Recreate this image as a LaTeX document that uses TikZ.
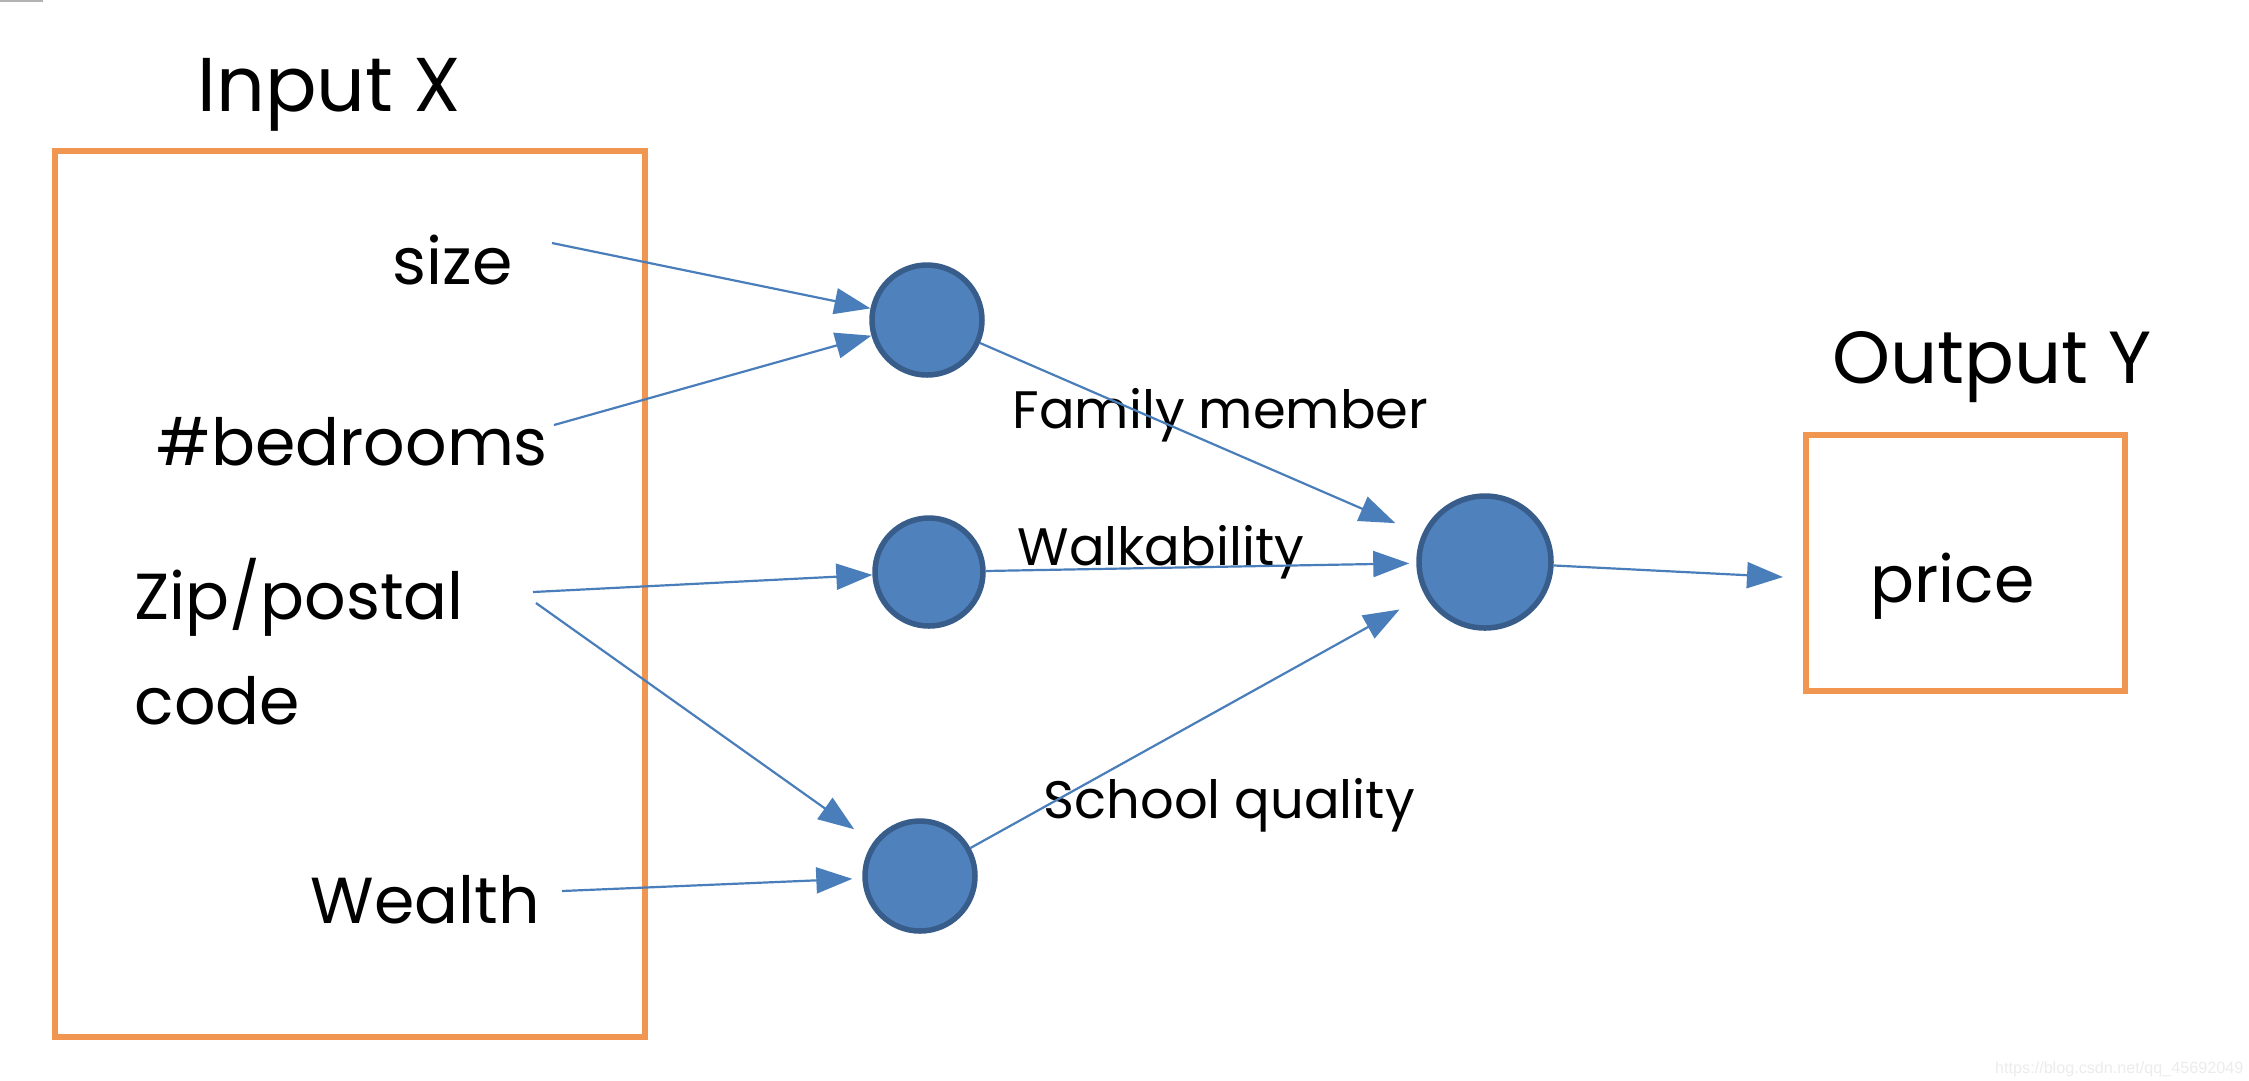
\documentclass[tikz,border=0pt]{standalone}
\usepackage{fontspec}
\setmainfont{Poppins}
\newfontfamily\wmfont{Liberation Sans}
\usetikzlibrary{arrows.meta}
\definecolor{boxorange}{RGB}{240,150,80}
\definecolor{nodefill}{RGB}{79,129,189}
\definecolor{nodeedge}{RGB}{56,93,138}
\definecolor{linkblue}{RGB}{74,126,187}
\begin{document}
\begin{tikzpicture}[x=0.1mm,y=-0.1mm,
  neuron/.style={circle,fill=nodefill,draw=nodeedge,line width=0.55mm,inner sep=0pt,minimum size=#1},
  link/.style={draw=linkblue,line width=0.22mm,-{Triangle[length=3.6mm,width=2.6mm]}},
  framebox/.style={draw=boxorange,line width=0.6mm,inner sep=0pt},
  title/.style={font=\fontsize{21.7}{26}\selectfont,inner sep=0pt,anchor=base west},
  inlabel/.style={font=\fontsize{18.5}{22}\selectfont,inner sep=0pt,anchor=base west},
  hidlabel/.style={font=\fontsize{15}{18}\selectfont,inner sep=0pt,anchor=base west}]
\useasboundingbox (0,0) rectangle (2249,1080);
\fill[white] (0,0) rectangle (2249,1080);
\draw[gray!60,line width=0.25mm] (0,1) -- (43,1);

% boxes
\node[framebox,minimum width=59mm,minimum height=88.6mm] (xbox) at (350,594) {};
\node[framebox,minimum width=31.9mm,minimum height=25.6mm] (ybox) at (1965.5,563) {};

% titles
\node[title] (tin) at (197,111) {Input X};
\node[title,font=\fontsize{21}{25}\selectfont] (tout) at (1832,383) {Output Y};
\node[inlabel] (price) at (1870,602) {price};

% input labels
\node[inlabel] (lsize) at (392,284) {size};
\node[inlabel] (lbed) at (156,465) {\#bedrooms};
\node[inlabel] (lzip) at (134,619) {Zip/postal};
\node[inlabel] (lcode) at (134,724) {code};
\node[inlabel] (lwealth) at (310,923) {Wealth};

% hidden labels
\node[hidlabel] (lfam) at (1012,428) {Family member};
\node[hidlabel] (lwalk) at (1017,565) {Walkability};
\node[hidlabel] (lschool) at (1043,818) {School quality};

% neurons
\node[neuron=11mm] (h1) at (927,320) {};
\node[neuron=10.8mm] (h2) at (929,572) {};
\node[neuron=11mm] (h3) at (920,876) {};
\node[neuron=13.2mm] (out) at (1485,562) {};

% free ends
\coordinate (s1) at (552,243);
\coordinate (s2) at (554,425);
\coordinate (z1) at (533,592);
\coordinate (z2) at (536,603);
\coordinate (w1) at (562,891);
\coordinate (pin) at (1783,577);

% connectors
\draw[link] (s1) -- (h1);
\draw[link] (s2) -- (h1);
\draw[link] (z1) -- (h2);
\draw[link,shorten >=2.3mm] (z2) -- (h3);
\draw[link,shorten >=1mm] (w1) -- (h3);
\draw[link,shorten >=2.9mm] (h1) -- (out);
\draw[link,shorten >=0.7mm] (h2) -- (out);
\draw[link,shorten >=2.9mm] (h3) -- (out);
\draw[link] (out) -- (pin);

% watermark
\node[font=\wmfont\fontsize{4.6}{5}\selectfont,text=gray!15,inner sep=0pt,anchor=base east] (wm) at (2244,1073) {https://blog.csdn.net/qq\_45692049};
\end{tikzpicture}
\end{document}
